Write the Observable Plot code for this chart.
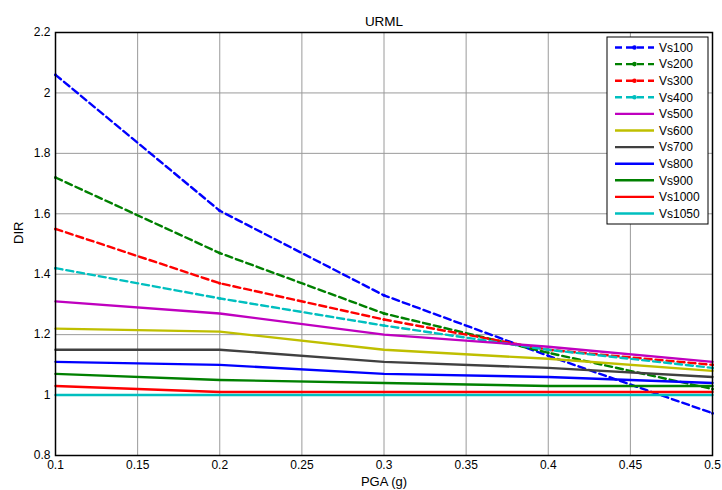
<!DOCTYPE html>
<html>
<head>
<meta charset="utf-8">
<script src="https://cdn.jsdelivr.net/npm/d3@7"></script>
<script src="https://cdn.jsdelivr.net/npm/@observablehq/plot@0.6"></script>
<style>
  html, body { margin: 0; padding: 0; background: #fff; }
  #chart { width: 722px; height: 490px; }
  svg { font-family: "Liberation Sans", Arial, sans-serif; }
</style>
</head>
<body>
<div id="chart"></div>
<script>
const pga = [0.1, 0.2, 0.3, 0.4, 0.5];
const seriesNames = ["Vs100","Vs200","Vs300","Vs400","Vs500","Vs600","Vs700","Vs800","Vs900","Vs1000","Vs1050"];
const Vs100  = [2.06, 1.61, 1.33, 1.13, 0.94];
const Vs200  = [1.72, 1.47, 1.27, 1.14, 1.02];
const Vs300  = [1.55, 1.37, 1.25, 1.15, 1.10];
const Vs400  = [1.42, 1.32, 1.23, 1.15, 1.09];
const Vs500  = [1.31, 1.27, 1.20, 1.16, 1.11];
const Vs600  = [1.22, 1.21, 1.15, 1.12, 1.08];
const Vs700  = [1.15, 1.15, 1.11, 1.09, 1.06];
const Vs800  = [1.11, 1.10, 1.07, 1.06, 1.04];
const Vs900  = [1.07, 1.05, 1.04, 1.03, 1.03];
const Vs1000 = [1.03, 1.01, 1.01, 1.01, 1.01];
const Vs1050 = [1.00, 1.00, 1.00, 1.00, 1.00];
const seriesValues = [Vs100, Vs200, Vs300, Vs400, Vs500, Vs600, Vs700, Vs800, Vs900, Vs1000, Vs1050];
const seriesColors = ["#0000FF","#008000","#FF0000","#00BFBF","#BF00BF","#BFBF00","#404040","#0000FF","#008000","#FF0000","#00BFBF"];
const seriesDashed = [true, true, true, true, false, false, false, false, false, false, false];
const xTicks = [0.1, 0.15, 0.2, 0.25, 0.3, 0.35, 0.4, 0.45, 0.5];
const yTicks = [0.8, 1, 1.2, 1.4, 1.6, 1.8, 2, 2.2];
const titleText = "URML";
const xLabel = "PGA (g)";
const yLabel = "DIR";

const series = seriesNames.map((name, i) => ({
  name,
  color: seriesColors[i],
  dashed: seriesDashed[i],
  data: pga.map((x, j) => ({x, y: seriesValues[i][j]}))
}));

const marks = [
  Plot.gridX(xTicks, {stroke: "#9a9a9a", strokeOpacity: 1, strokeWidth: 1}),
  Plot.gridY(yTicks, {stroke: "#9a9a9a", strokeOpacity: 1, strokeWidth: 1}),
  Plot.axisX(xTicks, {tickSize: 0, tickPadding: 5, fontSize: 12, tickFormat: d => String(d), label: null}),
  Plot.axisY(yTicks, {tickSize: 0, tickPadding: 5, fontSize: 12, tickFormat: d => String(d), label: null}),
];
for (const s of series) {
  marks.push(Plot.line(s.data, {x: "x", y: "y", stroke: s.color, strokeWidth: 2.4,
    strokeDasharray: s.dashed ? "7,4" : null, strokeLinejoin: "round"}));
  if (s.dashed) marks.push(Plot.dot(s.data, {x: "x", y: "y", fill: s.color, r: 1.5}));
}
marks.push(Plot.frame({stroke: "black", strokeWidth: 1.5}));
marks.push(Plot.text([titleText], {frameAnchor: "top", dy: -16, fontSize: 13.5, fill: "black"}));
marks.push(Plot.text([xLabel], {frameAnchor: "bottom", dy: 30, fontSize: 13, fill: "black"}));
marks.push(Plot.text([yLabel], {frameAnchor: "left", dx: -37, rotate: -90, fontSize: 13, fill: "black"}));

const chart = Plot.plot({
  width: 722,
  height: 490,
  marginLeft: 55,
  marginRight: 10,
  marginTop: 32,
  marginBottom: 35,
  x: {domain: [0.1, 0.5]},
  y: {domain: [0.8, 2.2]},
  style: {fontFamily: "Liberation Sans, Arial, sans-serif", fontSize: "12px", color: "black", background: "white"},
  marks
});
document.getElementById("chart").appendChild(chart);

// Legend drawn into the plot's SVG
const svg = d3.select(chart);
const lx = 607, ly = 37, lw = 101, lh = 187, step = 16.6;
const g = svg.append("g").attr("class", "legend").attr("text-anchor", "start");
g.append("rect").attr("x", lx).attr("y", ly).attr("width", lw).attr("height", lh)
  .attr("fill", "white").attr("stroke", "black").attr("stroke-width", 1);
series.forEach((s, i) => {
  const yy = ly + 10.5 + i * step;
  g.append("line").attr("x1", lx + 8).attr("x2", lx + 47).attr("y1", yy).attr("y2", yy)
    .attr("stroke", s.color).attr("stroke-width", 2.4)
    .attr("stroke-dasharray", s.dashed ? "7,4" : null);
  if (s.dashed) g.append("circle").attr("cx", lx + 27.5).attr("cy", yy).attr("r", 2.3).attr("fill", s.color);
  g.append("text").attr("x", lx + 52).attr("y", yy).attr("dy", "0.35em")
    .attr("text-anchor", "start")
    .attr("font-size", 12).attr("fill", "black").text(s.name);
});
</script>
</body>
</html>
